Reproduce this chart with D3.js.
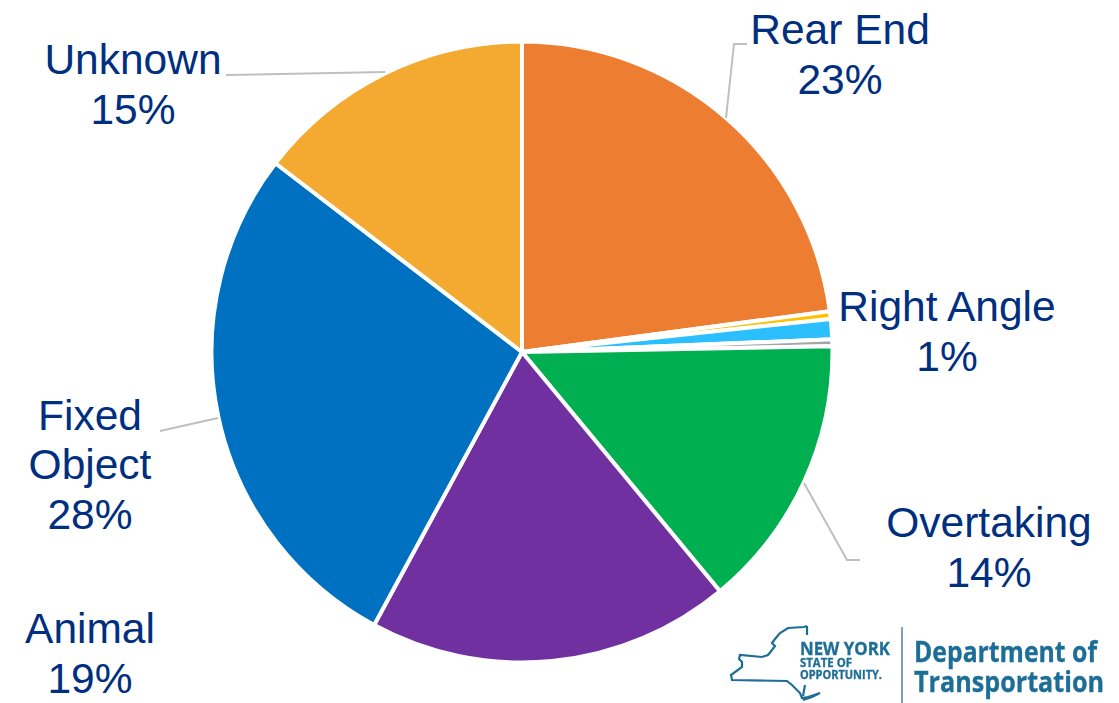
<!DOCTYPE html>
<html>
<head>
<meta charset="utf-8">
<script src="https://cdnjs.cloudflare.com/ajax/libs/d3/7.8.5/d3.min.js"></script>
<style>
  html, body { margin: 0; padding: 0; background: #fff; }
  svg { display: block; }
  text { font-family: "Liberation Sans", Arial, sans-serif; }
  #logo text { font-family: "Open Sans", "Liberation Sans", sans-serif; font-weight: 700; }
</style>
</head>
<body>
<svg id="chart" width="1119" height="703"></svg>
<script>
// Crash share by collision type, clockwise from twelve o'clock.
const categories = ["Rear End", "Other A", "Right Angle", "Other B", "Overtaking", "Animal", "Fixed Object", "Unknown"];
const shares = [22.9, 0.4, 1.05, 0.35, 14.3, 18.9, 27.5, 14.6];
const sliceColors = ["#ED7D31", "#FFC000", "#2BBFFF", "#A5A5A5", "#00B050", "#7030A0", "#0070C0", "#F4AA31"];

// Category labels: name lines, and where each block is centred.
const labelled = ["Rear End", "Right Angle", "Overtaking", "Animal", "Fixed Object", "Unknown"];
const labelLines = [["Rear End"], ["Right Angle"], ["Overtaking"], ["Animal"], ["Fixed", "Object"], ["Unknown"]];
const labelCenters = [[840, 44], [947, 321], [989, 537], [90, 643], [90, 454], [133, 74]];

// Leader lines joining a label to its slice.
const leaders = [
  [[747, 44], [734, 44], [726, 118]],
  [[226, 75], [385, 72]],
  [[160, 431], [218, 418]],
  [[804, 483], [847, 560], [860, 560]]
];

// Agency signature, bottom right.
const logoColor = "#1F6E96";
const stateOutline = [
  [807, 626], [804, 627], [788, 628], [780, 633], [775, 639], [772, 643], [775, 646], [772, 650],
  [768, 655], [762, 657], [740, 655], [739, 659], [742, 662], [742, 667], [731, 675], [732, 680],
  [787, 681], [792, 685], [800, 693], [802, 698], [808, 697], [820, 693], [812, 697], [803, 700]
];
const stateEdges = [
  [[807, 626], [807, 635]],
  [[805, 685], [803, 696]]
];
const logoTexts = [
  { text: "NEW YORK", x: 800, y: 655, size: 16.5, width: 90 },
  { text: "STATE OF", x: 800, y: 667, size: 10.5, width: 52 },
  { text: "OPPORTUNITY.", x: 800, y: 679, size: 10.5, width: 82 },
  { text: "Department of", x: 914, y: 662, size: 26, width: 183 },
  { text: "Transportation", x: 914, y: 692, size: 26, width: 190 }
];
const logoTextStretch = 1.1;

const svg = d3.select("#chart");
const cx = 522, cy = 352, radius = 310.5;
const textColor = "#002F7F";
const fontSize = 42.5, lineGap = 49.5, baselineShift = 25;
const pct = d3.format(".0f");

const pie = d3.pie().value(d => d).sort(null);
const arc = d3.arc().innerRadius(0).outerRadius(radius);

svg.append("g")
  .attr("transform", `translate(${cx},${cy})`)
  .selectAll("path")
  .data(pie(shares))
  .join("path")
  .attr("d", arc)
  .attr("fill", (d, i) => sliceColors[i])
  .attr("stroke", "#fff")
  .attr("stroke-width", 4)
  .attr("stroke-linejoin", "miter");

const polyline = d3.line();
svg.append("g")
  .selectAll("path")
  .data(leaders)
  .join("path")
  .attr("d", polyline)
  .attr("fill", "none")
  .attr("stroke", "#BFBFBF")
  .attr("stroke-width", 2);

labelled.forEach((name, i) => {
  const value = shares[categories.indexOf(name)];
  const lines = labelLines[i].concat(pct(value) + "%");
  const [x, y] = labelCenters[i];
  const top = y - (lines.length - 1) * lineGap / 2 + baselineShift;
  svg.append("text")
    .attr("text-anchor", "middle")
    .attr("font-size", fontSize)
    .attr("fill", textColor)
    .selectAll("tspan")
    .data(lines)
    .join("tspan")
    .attr("x", x)
    .attr("y", (d, j) => top + j * lineGap)
    .text(d => d);
});

// The signature is a small raster-like mark, so it carries a slight softness.
const defs = svg.append("defs");
defs.append("filter").attr("id", "soft")
  .append("feGaussianBlur").attr("stdDeviation", 0.45);

const logo = svg.append("g")
  .attr("id", "logo")
  .attr("filter", "url(#soft)");

logo.selectAll("path.outline")
  .data([stateOutline, ...stateEdges])
  .join("path")
  .attr("class", "outline")
  .attr("d", polyline)
  .attr("fill", "none")
  .attr("stroke", logoColor)
  .attr("stroke-width", 2.2);

logo.append("line")
  .attr("x1", 902).attr("x2", 902)
  .attr("y1", 627).attr("y2", 703)
  .attr("stroke", "#5E8AA3")
  .attr("stroke-width", 1.6);

logo.selectAll("text")
  .data(logoTexts)
  .join("text")
  .attr("transform", d => `translate(${d.x},${d.y}) scale(1,${logoTextStretch})`)
  .attr("font-size", d => d.size)
  .attr("textLength", d => d.width)
  .attr("lengthAdjust", "spacingAndGlyphs")
  .attr("fill", logoColor)
  .attr("stroke", logoColor)
  .attr("stroke-width", 0.3)
  .text(d => d.text);
</script>
</body>
</html>
